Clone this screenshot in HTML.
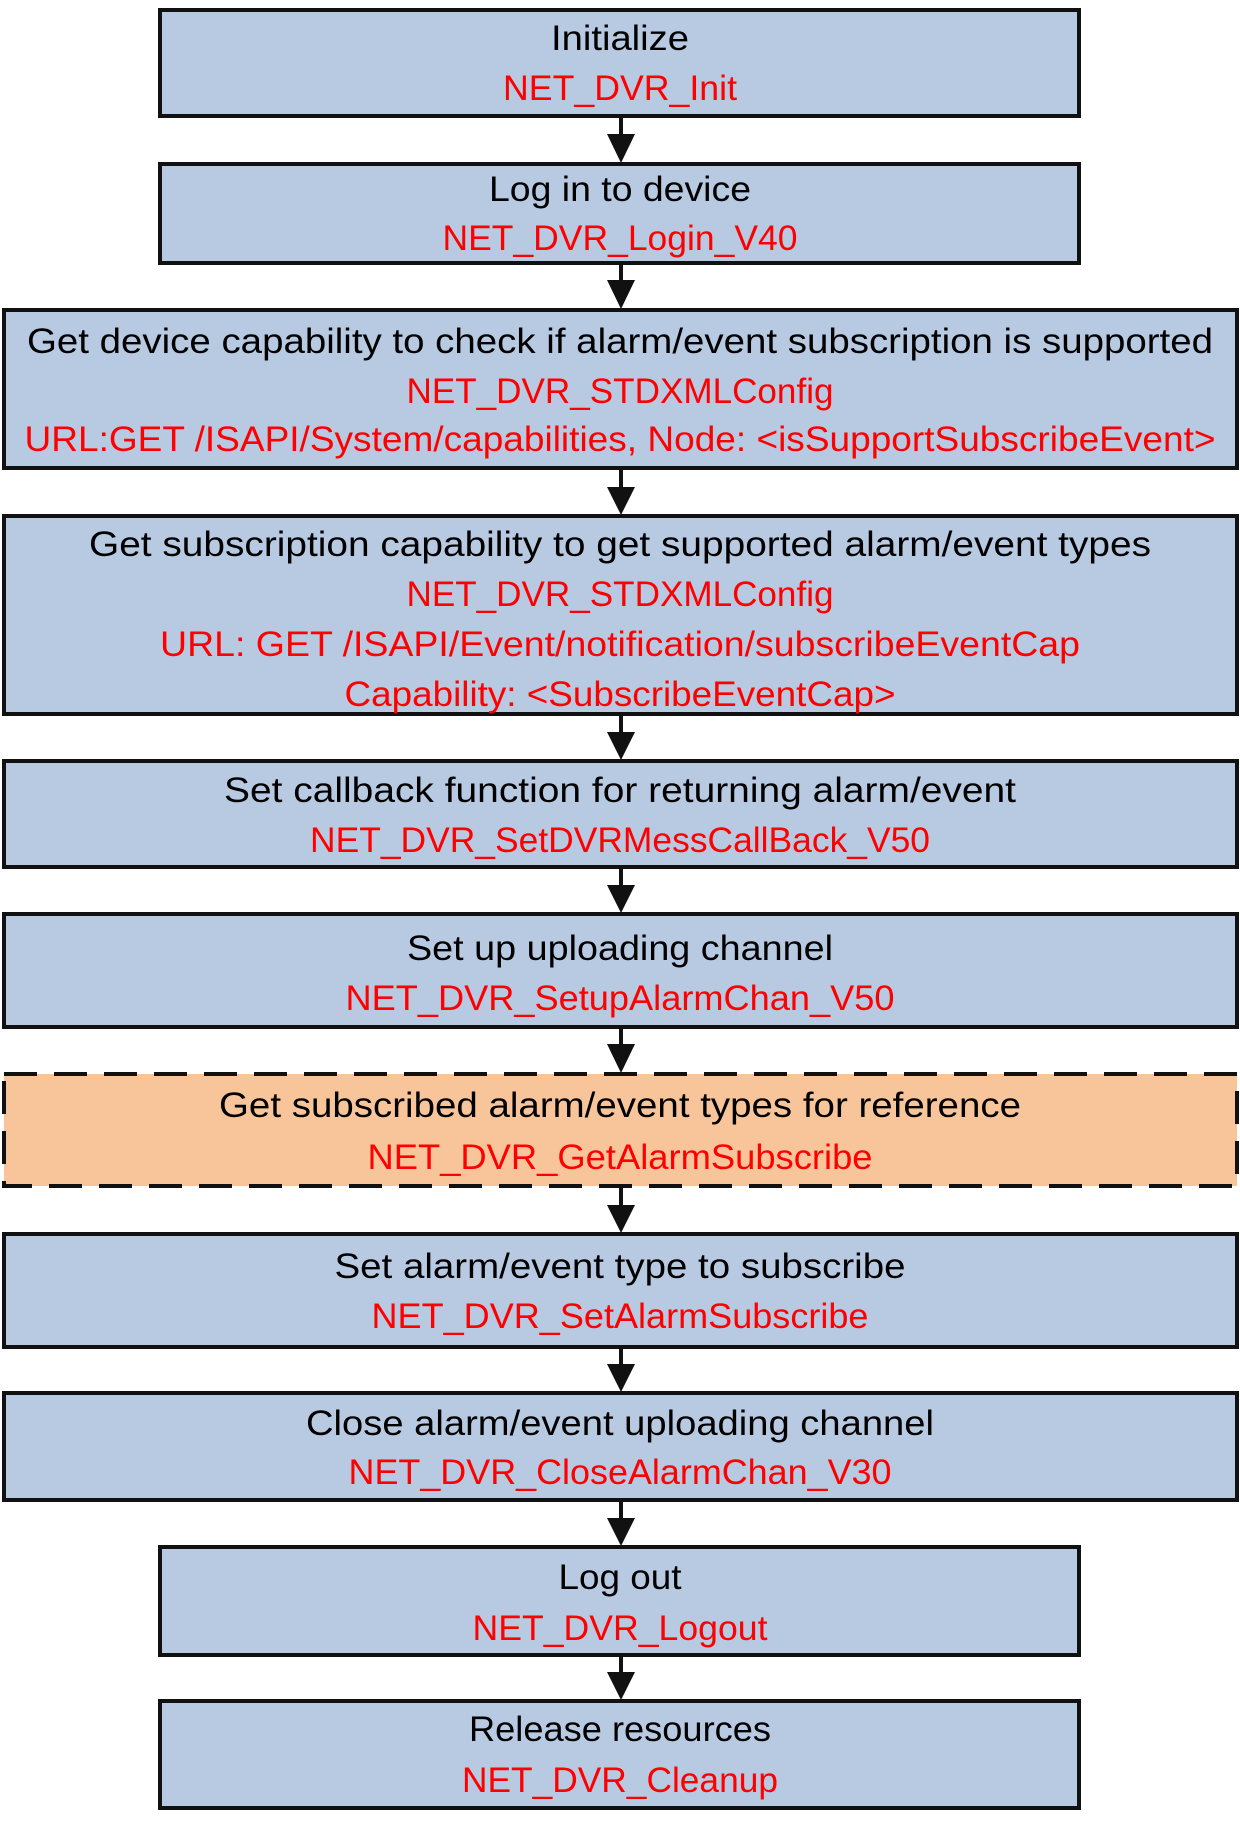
<!DOCTYPE html>
<html><head><meta charset="utf-8"><style>html,body{margin:0;padding:0;background:#fff}svg{display:block}</style></head>
<body>
<svg width="1240" height="1825" viewBox="0 0 1240 1825" xmlns="http://www.w3.org/2000/svg" font-family="'Liberation Sans', sans-serif" font-size="35" text-anchor="middle">
<g stroke="#111" stroke-width="4" fill="#b8c9e2">
<rect x="160" y="10" width="919" height="106"/>
<rect x="160" y="164" width="919" height="99"/>
<rect x="4" y="310" width="1233" height="158"/>
<rect x="4" y="516" width="1233" height="198"/>
<rect x="4" y="761" width="1233" height="106"/>
<rect x="4" y="914" width="1233" height="113"/>
<rect x="4" y="1074" width="1233" height="112" fill="#f8c59a" stroke-dasharray="33 17"/>
<rect x="4" y="1234" width="1233" height="113"/>
<rect x="4" y="1393" width="1233" height="107"/>
<rect x="160" y="1547" width="919" height="108"/>
<rect x="160" y="1701" width="919" height="107"/>
</g>
<g stroke="#111" stroke-width="4">
<line x1="621" y1="116" x2="621" y2="140"/>
<line x1="621" y1="263" x2="621" y2="285"/>
<line x1="621" y1="468" x2="621" y2="490"/>
<line x1="621" y1="714" x2="621" y2="735"/>
<line x1="621" y1="867" x2="621" y2="888"/>
<line x1="621" y1="1027" x2="621" y2="1048"/>
<line x1="621" y1="1186" x2="621" y2="1208"/>
<line x1="621" y1="1347" x2="621" y2="1367"/>
<line x1="621" y1="1500" x2="621" y2="1521"/>
<line x1="621" y1="1655" x2="621" y2="1675"/>
</g>
<g fill="#111">
<polygon points="607,134 635,134 621,163"/>
<polygon points="607,280 635,280 621,309"/>
<polygon points="607,487 635,487 621,515"/>
<polygon points="607,732 635,732 621,760"/>
<polygon points="607,885 635,885 621,913"/>
<polygon points="607,1044 635,1044 621,1073"/>
<polygon points="607,1205 635,1205 621,1233"/>
<polygon points="607,1364 635,1364 621,1392"/>
<polygon points="607,1518 635,1518 621,1546"/>
<polygon points="607,1672 635,1672 621,1700"/>
</g>
<g fill="#000">
<text x="620" y="50" textLength="138" lengthAdjust="spacingAndGlyphs">Initialize</text>
<text x="620" y="201" textLength="262" lengthAdjust="spacingAndGlyphs">Log in to device</text>
<text x="620" y="353" textLength="1186" lengthAdjust="spacingAndGlyphs">Get device capability to check if alarm/event subscription is supported</text>
<text x="620" y="556" textLength="1062" lengthAdjust="spacingAndGlyphs">Get subscription capability to get supported alarm/event types</text>
<text x="620" y="802" textLength="792" lengthAdjust="spacingAndGlyphs">Set callback function for returning alarm/event</text>
<text x="620" y="960" textLength="426" lengthAdjust="spacingAndGlyphs">Set up uploading channel</text>
<text x="620" y="1117" textLength="802" lengthAdjust="spacingAndGlyphs">Get subscribed alarm/event types for reference</text>
<text x="620" y="1278" textLength="571" lengthAdjust="spacingAndGlyphs">Set alarm/event type to subscribe</text>
<text x="620" y="1435" textLength="628" lengthAdjust="spacingAndGlyphs">Close alarm/event uploading channel</text>
<text x="620" y="1589" textLength="123" lengthAdjust="spacingAndGlyphs">Log out</text>
<text x="620" y="1741" textLength="302" lengthAdjust="spacingAndGlyphs">Release resources</text>
</g>
<g fill="#ff0000">
<text x="620" y="100" textLength="234" lengthAdjust="spacingAndGlyphs">NET_DVR_Init</text>
<text x="620" y="250" textLength="355" lengthAdjust="spacingAndGlyphs">NET_DVR_Login_V40</text>
<text x="620" y="403" textLength="427" lengthAdjust="spacingAndGlyphs">NET_DVR_STDXMLConfig</text>
<text x="620" y="451" textLength="1191" lengthAdjust="spacingAndGlyphs">URL:GET /ISAPI/System/capabilities, Node: &lt;isSupportSubscribeEvent&gt;</text>
<text x="620" y="606" textLength="427" lengthAdjust="spacingAndGlyphs">NET_DVR_STDXMLConfig</text>
<text x="620" y="656" textLength="920" lengthAdjust="spacingAndGlyphs">URL: GET /ISAPI/Event/notification/subscribeEventCap</text>
<text x="620" y="706" textLength="551" lengthAdjust="spacingAndGlyphs">Capability: &lt;SubscribeEventCap&gt;</text>
<text x="620" y="852" textLength="620" lengthAdjust="spacingAndGlyphs">NET_DVR_SetDVRMessCallBack_V50</text>
<text x="620" y="1010" textLength="549" lengthAdjust="spacingAndGlyphs">NET_DVR_SetupAlarmChan_V50</text>
<text x="620" y="1169" textLength="505" lengthAdjust="spacingAndGlyphs">NET_DVR_GetAlarmSubscribe</text>
<text x="620" y="1328" textLength="497" lengthAdjust="spacingAndGlyphs">NET_DVR_SetAlarmSubscribe</text>
<text x="620" y="1484" textLength="543" lengthAdjust="spacingAndGlyphs">NET_DVR_CloseAlarmChan_V30</text>
<text x="620" y="1640" textLength="295" lengthAdjust="spacingAndGlyphs">NET_DVR_Logout</text>
<text x="620" y="1792" textLength="316" lengthAdjust="spacingAndGlyphs">NET_DVR_Cleanup</text>
</g>
</svg>
</body></html>
